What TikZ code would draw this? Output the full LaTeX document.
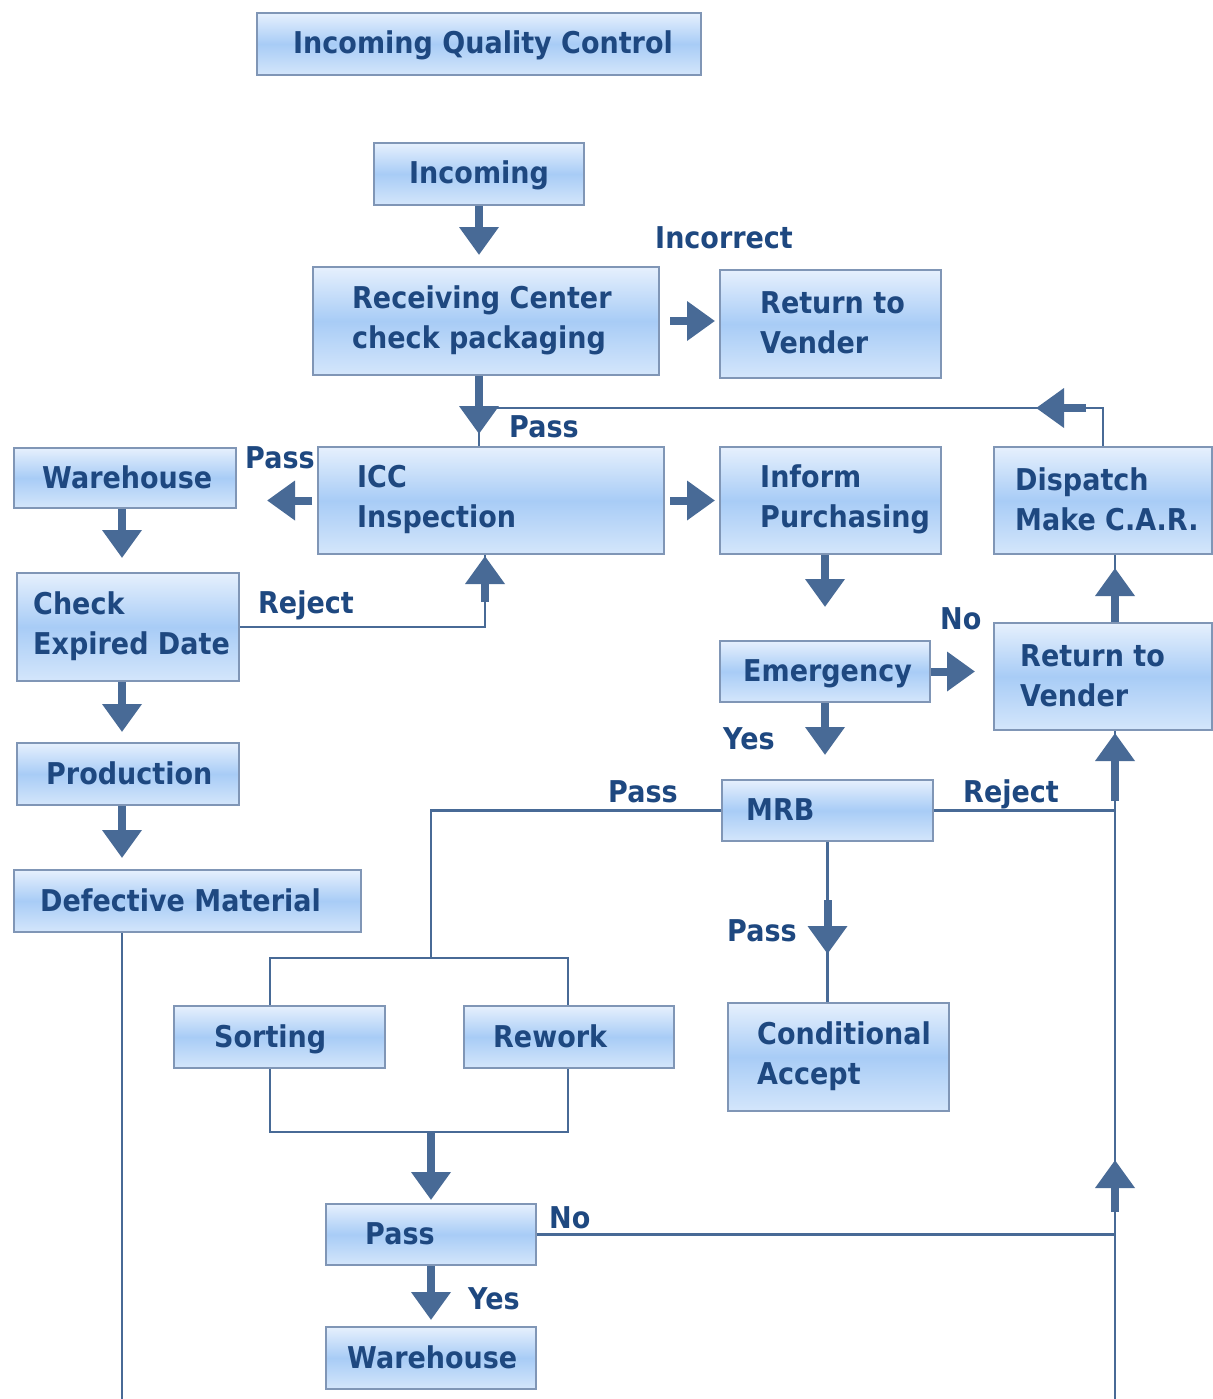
\documentclass[tikz,border=0pt]{standalone}
\usepackage{fontspec}
\newfontfamily\qfont{DejaVu Sans}[FakeStretch=0.9]
\usetikzlibrary{arrows.meta,calc}

\definecolor{txtblue}{RGB}{30,72,128}
\definecolor{linkblue}{RGB}{72,106,150}
\definecolor{edgeblue}{RGB}{128,150,182}
\definecolor{fillTop}{RGB}{230,240,253}
\definecolor{fillMid}{RGB}{168,204,246}
\definecolor{fillBot}{RGB}{212,230,251}

\tikzset{
  box/.style={rectangle, draw=edgeblue, line width=2pt, inner sep=0pt,
    top color=fillTop, bottom color=fillBot, middle color=fillMid},
  boxtext/.style={font=\qfont\bfseries\fontsize{30}{40}\selectfont,
    text=txtblue, inner sep=0pt, align=left},
  onetext/.style={boxtext, text height=22pt, text depth=0pt},
  lbl/.style={onetext, anchor=west},
  link/.style={draw=linkblue, line width=2.5pt},
  bigarrow/.style={draw=linkblue, line width=8pt,
    -{Triangle[length=28pt,width=38pt]}},
}

% \qbox{name}{x1}{y1}{x2}{y2}{text x}{text style}{text}
\newcommand{\qbox}[8]{%
  \node[box, anchor=north west, minimum width={(#4-#2)*1pt},
        minimum height={(#5-#3)*1pt}] (#1) at (#2,#3) {};
  \node[#7, anchor=west] (#1t) at (#6,{(#3+#5)/2}) {#8};
}

\begin{document}
\begin{tikzpicture}[x=1pt,y=-1pt]
\fill[white] (0,0) rectangle (1212,1399);
\useasboundingbox (0,0) rectangle (1212,1399);

% boxes
\qbox{title}{256}{12}{700}{74}{293}{onetext}{Incoming Quality Control}
\qbox{incoming}{373}{142}{583}{204}{409}{onetext}{Incoming}
\qbox{recv}{312}{266}{658}{374}{352}{boxtext}{Receiving Center\\check packaging}
\qbox{rvone}{719}{269}{940}{377}{760}{boxtext}{Return to\\Vender}
\qbox{icc}{317}{446}{663}{553}{357}{boxtext}{ICC\\Inspection}
\qbox{inform}{719}{446}{940}{553}{760}{boxtext}{Inform\\Purchasing}
\qbox{dispatch}{993}{446}{1211}{553}{1015}{boxtext}{Dispatch\\Make C.A.R.}
\qbox{whone}{13}{447}{235}{507}{42}{onetext}{Warehouse}
\qbox{check}{16}{572}{238}{680}{33}{boxtext}{Check\\Expired Date}
\qbox{emerg}{719}{640}{929}{701}{743}{onetext}{Emergency}
\qbox{rvtwo}{993}{622}{1211}{729}{1020}{boxtext}{Return to\\Vender}
\qbox{prod}{16}{742}{238}{804}{46}{onetext}{Production}
\qbox{mrb}{721}{779}{932}{840}{746}{onetext}{MRB}
\qbox{defect}{13}{869}{360}{931}{40}{onetext}{Defective Material}
\qbox{sorting}{173}{1005}{384}{1067}{214}{onetext}{Sorting}
\qbox{rework}{463}{1005}{673}{1067}{493}{onetext}{Rework}
\qbox{cond}{727}{1002}{948}{1110}{757}{boxtext}{Conditional\\Accept}
\qbox{passbox}{325}{1203}{535}{1264}{365}{onetext}{Pass}
\qbox{whtwo}{325}{1326}{535}{1388}{347}{onetext}{Warehouse}

% junction points and open ends
\coordinate (join) at (478,408);
\coordinate (lbottom) at (122,1399);
\coordinate (rbottom) at (1115,1399);
\coordinate (splitM) at (431,958);
\coordinate (splitL) at (270,958);
\coordinate (splitR) at (568,958);
\coordinate (joinL) at (270,1132);
\coordinate (joinR) at (568,1132);

% main flow
\draw[bigarrow, shorten >=11pt] (incoming.south) -- (incoming.south |- recv.north);
\draw[bigarrow, shorten <=10pt, shorten >=4pt] (recv.east) -- (recv.east -| rvone.west);
\draw[link] (incoming.south |- recv.south) -- (incoming.south |- icc.north);
\draw[bigarrow] (incoming.south |- recv.south) -- ++(0,58);
\draw[link] (dispatch.north) |- (join);
\draw[bigarrow] ($(dispatch.north |- join)+(-17,0)$) -- ++(-50,0);

\draw[bigarrow, shorten <=5pt, shorten >=30pt] (icc.west) -- (icc.west -| whone.east);
\draw[bigarrow, shorten <=5pt, shorten >=4pt] (icc.east) -- (inform.west);

% left column
\draw[bigarrow, shorten >=14pt] (lbottom |- whone.south) -- (lbottom |- check.north);
\draw[bigarrow, shorten >=10pt] (lbottom |- check.south) -- (lbottom |- prod.north);
\draw[bigarrow, shorten >=11pt] (lbottom |- prod.south) -- (lbottom |- defect.north);
\draw[link] (lbottom |- defect.south) -- (lbottom);
\draw[link] (check.east) -| ($(icc.south)+(-6,0)$);
\draw[bigarrow, shorten >=1pt] ($(icc.south)+(-6,47)$) -- ($(icc.south)+(-6,0)$);

% right column
\draw[bigarrow, shorten >=33pt] (emerg.north |- inform.south) -- (emerg.north);
\draw[bigarrow, shorten >=18pt] (emerg.east) -- (emerg.east -| rvtwo.west);
\draw[bigarrow, shorten >=24pt] (emerg.south) -- (emerg.south |- mrb.north);
\draw[link] (rbottom |- rvtwo.north) -- (rbottom |- dispatch.south);
\draw[bigarrow] (rbottom |- rvtwo.north) -- ++(0,-54);
\draw[link] (rbottom) -- (rbottom |- rvtwo.south);
\draw[bigarrow, shorten >=2pt] ($(rbottom |- rvtwo.south)+(0,70)$) -- (rbottom |- rvtwo.south);
\draw[bigarrow] ($(rbottom)+(0,-187)$) -- ++(0,-52);
\draw[link] (mrb.east) -- (mrb.east -| rbottom);
\draw[link] (passbox.east) -- (passbox.east -| rbottom);

% MRB outcomes
\draw[link] (mrb.south) -- (mrb.south |- cond.north);
\draw[bigarrow] ($(mrb.south)+(0,58)$) -- ++(0,54);
\draw[link] (mrb.west) -| (splitM);
\draw[link] (sorting.north -| splitL) -- (splitL) -- (splitR) -- (rework.north -| splitR);
\draw[link] (sorting.south -| joinL) -- (joinL) -- (joinR) -- (rework.south -| joinR);
\draw[bigarrow, shorten >=3pt] (passbox.north |- joinL) -- (passbox.north);
\draw[bigarrow, shorten >=6pt] (passbox.south) -- (whtwo.north);

% connector labels
\node[lbl] (lIncorrect) at (655,237) {Incorrect};
\node[lbl] (lPassA) at (509,426) {Pass};
\node[lbl] (lPassB) at (245,457) {Pass};
\node[lbl] (lRejectA) at (258,602) {Reject};
\node[lbl] (lNoA) at (940,618) {No};
\node[lbl] (lYesA) at (723,738) {Yes};
\node[lbl] (lPassC) at (608,791) {Pass};
\node[lbl] (lRejectB) at (963,791) {Reject};
\node[lbl] (lPassD) at (727,930) {Pass};
\node[lbl] (lNoB) at (549,1217) {No};
\node[lbl] (lYesB) at (468,1298) {Yes};
\end{tikzpicture}
\end{document}
